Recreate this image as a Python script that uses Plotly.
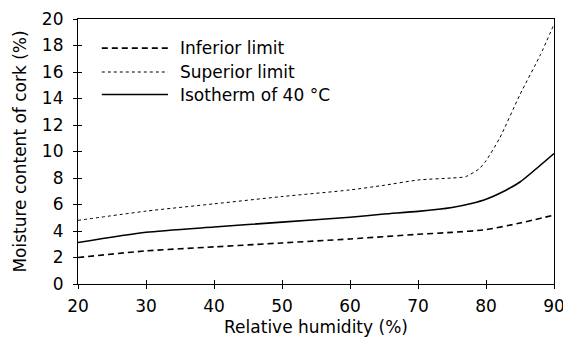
import plotly.graph_objects as go

# Data
inf_x = [20, 30, 40, 50, 60, 70, 75, 80, 85, 90]
inf_y = [2.0, 2.5, 2.8, 3.1, 3.4, 3.75, 3.9, 4.1, 4.6, 5.2]

sup_x = [20, 30, 40, 50, 60, 65, 70, 75, 77, 79, 80, 82, 85, 88, 90]
sup_y = [4.8, 5.5, 6.05, 6.6, 7.1, 7.45, 7.85, 8.0, 8.1, 8.7, 9.3, 11.0, 14.3, 17.3, 19.6]

iso_x = [20, 30, 40, 50, 60, 65, 70, 75, 78, 80, 83, 85, 90]
iso_y = [3.13, 3.9, 4.3, 4.67, 5.04, 5.28, 5.48, 5.78, 6.1, 6.4, 7.1, 7.7, 9.85]

names = ["Inferior limit", "Superior limit", "Isotherm of 40 °C"]
dashes = ["6px,4px", "3px,3px", "solid"]
widths = [1.6, 1.0, 1.6]

x_ticks = [20, 30, 40, 50, 60, 70, 80, 90]
y_ticks = list(range(0, 21, 2))

FONT = "DejaVu Sans, sans-serif"
FS = 17

fig = go.Figure()
for xs, ys, nm, d, w in zip([inf_x, sup_x, iso_x], [inf_y, sup_y, iso_y], names, dashes, widths):
    fig.add_trace(go.Scatter(x=xs, y=ys, mode="lines", name=nm,
                             line=dict(color="black", width=w, dash=d, shape="spline", smoothing=0.6),
                             showlegend=False))

# manual legend
leg_y = [0.89, 0.80, 0.715]
for yy, nm, d, w in zip(leg_y, names, dashes, widths):
    fig.add_shape(type="line", xref="paper", yref="paper", x0=0.050, x1=0.189, y0=yy, y1=yy,
                  line=dict(color="black", width=w, dash=d))
    fig.add_annotation(xref="paper", yref="paper", x=0.210, y=yy, text=nm, showarrow=False,
                       xanchor="left", yanchor="middle", font=dict(size=FS, color="black", family=FONT))

axis_common = dict(showline=True, linecolor="black", linewidth=1.2, mirror=True,
                   showgrid=False, zeroline=False, ticks="outside", ticklen=4, tickwidth=1,
                   tickcolor="black", tickfont=dict(size=FS, color="black", family=FONT),
                   automargin=False, ticklabeloverflow="allow")

# figure sits inside the page's default 8px body margin
fig.update_layout(
    width=559, height=329,
    margin=dict(l=70, r=13, t=11, b=53),
    paper_bgcolor="white", plot_bgcolor="white",
    font=dict(family=FONT, color="black"),
    xaxis=dict(range=[20, 90], tickvals=x_ticks, ticklabelstandoff=2,
               title=dict(text="Relative humidity (%)", font=dict(size=FS), standoff=7),
               **axis_common),
    yaxis=dict(range=[0, 20], tickvals=y_ticks, ticklabelstandoff=6,
               title=dict(text="Moisture content of cork (%)", font=dict(size=FS), standoff=10),
               **axis_common),
    xaxis2=dict(range=[20, 90], tickvals=x_ticks, overlaying="x", side="bottom",
                showticklabels=False, ticks="inside", ticklen=4, tickcolor="black",
                showline=False, showgrid=False, zeroline=False, automargin=False),
    yaxis2=dict(range=[0, 20], tickvals=y_ticks, overlaying="y", side="left",
                showticklabels=False, ticks="inside", ticklen=4, tickcolor="black",
                showline=False, showgrid=False, zeroline=False, automargin=False),
)
fig.add_trace(go.Scatter(x=[20], y=[0], xaxis="x2", yaxis="y2", mode="markers",
                         marker=dict(opacity=0), showlegend=False, hoverinfo="skip"))

fig.write_html("out.html")
